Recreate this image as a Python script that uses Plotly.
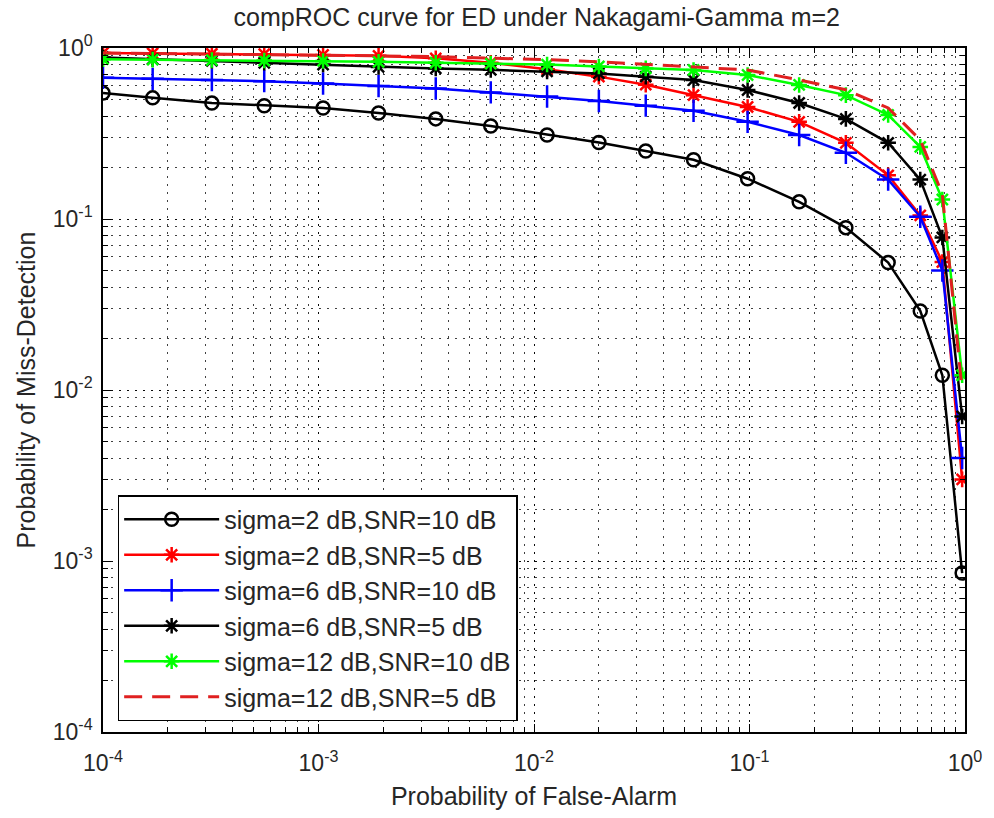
import plotly.graph_objects as go

# ---- data ----
pf = [1e-4, 1.7e-4, 3.2e-4, 5.6e-4, 1.05e-3, 1.9e-3, 3.5e-3, 6.3e-3, 1.15e-2, 2e-2,
      3.3e-2, 5.5e-2, 9.8e-2, 0.17, 0.28, 0.44, 0.62, 0.785, 0.97]

pm_s2_snr10 = [0.546, 0.511, 0.477, 0.46, 0.446, 0.417, 0.385, 0.35, 0.31, 0.28,
               0.25, 0.222, 0.172, 0.126, 0.089, 0.0556, 0.029, 0.0122, 0.00085]
pm_s2_snr5 = [0.935, 0.93, 0.925, 0.92, 0.91, 0.9, 0.87, 0.82, 0.75, 0.68,
              0.61, 0.53, 0.452, 0.37, 0.279, 0.18, 0.105, 0.056, 0.003]
pm_s6_snr10 = [0.67, 0.66, 0.65, 0.64, 0.62, 0.6, 0.58, 0.55, 0.52, 0.49,
               0.46, 0.43, 0.37, 0.31, 0.244, 0.17, 0.103, 0.05, 0.004]
pm_s6_snr5 = [0.88, 0.86, 0.84, 0.82, 0.8, 0.775, 0.76, 0.745, 0.73, 0.71,
              0.68, 0.65, 0.568, 0.477, 0.385, 0.279, 0.17, 0.078, 0.007]
pm_s12_snr10 = [0.86, 0.855, 0.85, 0.845, 0.84, 0.83, 0.82, 0.81, 0.8, 0.78,
                0.76, 0.744, 0.695, 0.608, 0.53, 0.406, 0.264, 0.13, 0.0122]
pm_s12_snr5 = [0.935, 0.93, 0.925, 0.92, 0.91, 0.9, 0.89, 0.875, 0.855, 0.83,
               0.8, 0.77, 0.744, 0.65, 0.57, 0.446, 0.29, 0.14, 0.01]

names = ["sigma=2 dB,SNR=10 dB", "sigma=2 dB,SNR=5 dB", "sigma=6 dB,SNR=10 dB",
         "sigma=6 dB,SNR=5 dB", "sigma=12 dB,SNR=10 dB", "sigma=12 dB,SNR=5 dB"]

tick_vals = [1e-4, 1e-3, 1e-2, 1e-1, 1]
tick_text = ["10<sup>-4</sup>", "10<sup>-3</sup>", "10<sup>-2</sup>", "10<sup>-1</sup>", "10<sup>0</sup>"]

FONT = "Liberation Sans, Arial, sans-serif"
TXT = "#262626"

fig = go.Figure()
series = [
    (pm_s2_snr10, "#000000", "circle-open", "solid", 13, 2.5),
    (pm_s2_snr5, "#ff0000", "asterisk-open", "solid", 13, 2.5),
    (pm_s6_snr10, "#0000ff", "cross-thin-open", "solid", 16, 2.5),
    (pm_s6_snr5, "#000000", "asterisk-open", "solid", 13, 2.5),
    (pm_s12_snr10, "#00ff00", "asterisk-open", "solid", 13, 2.5),
    (pm_s12_snr5, "#e02020", None, "18px,10px", 0, 3),
]
for (ys, col, sym, dash, msize, lw), name in zip(series, names):
    if sym is None:
        fig.add_trace(go.Scatter(x=pf, y=ys, name=name, mode="lines",
                                 line=dict(color=col, width=lw, dash=dash)))
    else:
        fig.add_trace(go.Scatter(x=pf, y=ys, name=name, mode="lines+markers",
                                 line=dict(color=col, width=lw, dash=dash),
                                 marker=dict(symbol=sym, size=msize, color=col,
                                             line=dict(color=col, width=2.5))))

axis_common = dict(
    type="log", showline=True, linecolor="black", linewidth=1.5, mirror="ticks",
    ticks="inside", ticklen=8, tickcolor="black",
    showgrid=True, gridcolor="rgba(0,0,0,0.85)", griddash="2px,6px", gridwidth=1.2,
    tickvals=tick_vals, ticktext=tick_text, zeroline=False,
    tickfont=dict(family=FONT, size=23, color=TXT),
    minor=dict(ticks="inside", ticklen=5, tickcolor="black", dtick="D1",
               showgrid=True, gridcolor="rgba(0,0,0,0.75)", griddash="2px,6px", gridwidth=1.2),
)

fig.update_layout(
    width=994, height=818,
    margin=dict(l=103, r=19, t=48, b=85),
    paper_bgcolor="white", plot_bgcolor="white",
    title=dict(text="compROC curve for ED under Nakagami-Gamma m=2",
               x=0.54, xanchor="center", y=0.99, yanchor="top",
               font=dict(family=FONT, size=25, color=TXT)),
    xaxis=dict(axis_common, range=[-4, 0], ticklabelstandoff=10,
               title=dict(text="Probability of False-Alarm", standoff=12,
                          font=dict(family=FONT, size=25, color=TXT))),
    yaxis=dict(axis_common, range=[-4, 0], ticklabelstandoff=4,
               title=dict(text="Probability of Miss-Detection", standoff=10,
                          font=dict(family=FONT, size=25, color=TXT))),
    legend=dict(x=0.017, y=0.016, xanchor="left", yanchor="bottom",
                bgcolor="white", bordercolor="black", borderwidth=1.5,
                font=dict(family=FONT, size=25, color=TXT),
                itemwidth=95, tracegroupgap=0),
    showlegend=True,
)

fig.write_html("out.html")
